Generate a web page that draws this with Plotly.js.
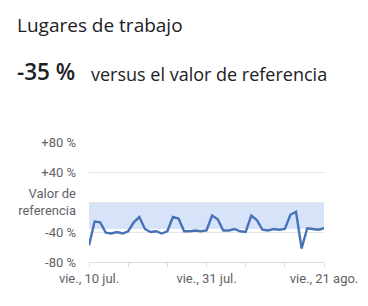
<!DOCTYPE html>
<html>
<head>
<meta charset="utf-8">
<script src="https://cdn.plot.ly/plotly-3.0.1.min.js"></script>
<style>
  html, body { margin: 0; padding: 0; background: #fff; }
  #chart { width: 368px; height: 306px; }
</style>
</head>
<body>
<div id="chart"></div>
<script>
// Data (Google mobility style: workplaces, % change vs baseline)
const dates = [
  '2020-07-10','2020-07-11','2020-07-12','2020-07-13','2020-07-14','2020-07-15','2020-07-16',
  '2020-07-17','2020-07-18','2020-07-19','2020-07-20','2020-07-21','2020-07-22','2020-07-23',
  '2020-07-24','2020-07-25','2020-07-26','2020-07-27','2020-07-28','2020-07-29','2020-07-30',
  '2020-07-31','2020-08-01','2020-08-02','2020-08-03','2020-08-04','2020-08-05','2020-08-06',
  '2020-08-07','2020-08-08','2020-08-09','2020-08-10','2020-08-11','2020-08-12','2020-08-13',
  '2020-08-14','2020-08-15','2020-08-16','2020-08-17','2020-08-18','2020-08-19','2020-08-20',
  '2020-08-21'
];
const values = [
  -58, -26, -27, -41, -42, -40, -42,
  -39, -27, -20, -36, -40, -39, -42,
  -39, -20, -22, -39, -39, -38, -39,
  -38, -18, -23, -38, -38, -36, -39,
  -40, -18, -24, -37, -38, -36, -37,
  -36, -17, -13, -62, -35, -36, -37,
  -35
];
const xTickVals = ['2020-07-10','2020-07-17','2020-07-24','2020-07-31','2020-08-07','2020-08-14','2020-08-21'];
const xTickText = ['vie., 10 jul.','','','vie., 31 jul.','','','vie., 21 ago.'];
const yTickVals = [-80, -40, 0, 40, 80];
const yTickText = ['-80 %', '-40 %', 'Valor de<br>referencia', '+40 %', '+80 %'];
const bandBottom = -36;
const headline = '-35 %';
const titleText = 'Lugares de trabajo';
const subText = 'versus el valor de referencia';

const trace = {
  x: dates,
  y: values,
  type: 'scatter',
  mode: 'lines',
  line: { color: '#4673b8', width: 2.4 },
  hoverinfo: 'skip'
};

const headFont = '"Open Sans", Roboto, Arial, sans-serif';

const layout = {
  width: 368,
  height: 306,
  margin: { l: 89, r: 44, t: 142, b: 44 },
  paper_bgcolor: '#ffffff',
  plot_bgcolor: '#ffffff',
  font: { family: 'Roboto, Arial, sans-serif', color: '#5f6368', size: 13 },
  showlegend: false,
  xaxis: {
    type: 'date',
    range: ['2020-07-10', '2020-08-21'],
    tickvals: xTickVals,
    ticktext: xTickText,
    showgrid: false,
    zeroline: false,
    showline: true,
    linecolor: '#dadce0',
    linewidth: 1,
    ticks: 'outside',
    ticklen: 4,
    tickcolor: '#dadce0',
    tickfont: { size: 13, color: '#5f6368' },
    fixedrange: true
  },
  yaxis: {
    range: [-80, 80],
    tickvals: yTickVals,
    ticktext: yTickText,
    showgrid: true,
    gridcolor: '#e6e6e6',
    gridwidth: 1,
    zeroline: false,
    showline: false,
    ticks: '',
    ticklabelstandoff: 12,
    tickfont: { size: 13, color: '#5f6368' },
    fixedrange: true
  },
  shapes: [{
    type: 'rect',
    xref: 'x', yref: 'y',
    x0: dates[0], x1: dates[dates.length - 1],
    y0: bandBottom, y1: 0,
    fillcolor: '#d6e3f8',
    line: { width: 0 },
    layer: 'below'
  }],
  annotations: [
    {
      text: titleText,
      xref: 'paper', yref: 'paper',
      x: 0, y: 0,
      xanchor: 'left', yanchor: 'bottom',
      showarrow: false,
      font: { family: headFont, size: 19, color: '#202124' }
    },
    {
      text: headline,
      xref: 'paper', yref: 'paper',
      x: 0, y: 0,
      xanchor: 'left', yanchor: 'bottom',
      showarrow: false,
      font: { family: headFont, size: 22.5, color: '#202124', weight: 600 }
    },
    {
      text: subText,
      xref: 'paper', yref: 'paper',
      x: 0, y: 0,
      xanchor: 'left', yanchor: 'bottom',
      showarrow: false,
      font: { family: headFont, size: 18, color: '#202124' }
    }
  ]
};

// Position header annotations in pixel terms relative to paper
(function () {
  const plotW = 368 - 89 - 44, plotH = 306 - 142 - 44;
  function px(xp) { return (xp - 89) / plotW; }
  function py(yp) { return (306 - 44 - yp) / plotH; }
  layout.annotations[0].x = px(17 - 2); layout.annotations[0].y = py(40);
  layout.annotations[1].x = px(17 - 2); layout.annotations[1].y = py(89);
  layout.annotations[2].x = px(91 - 2); layout.annotations[2].y = py(88);
})();

Plotly.newPlot('chart', [trace], layout, { displayModeBar: false, staticPlot: true });
</script>
</body>
</html>
